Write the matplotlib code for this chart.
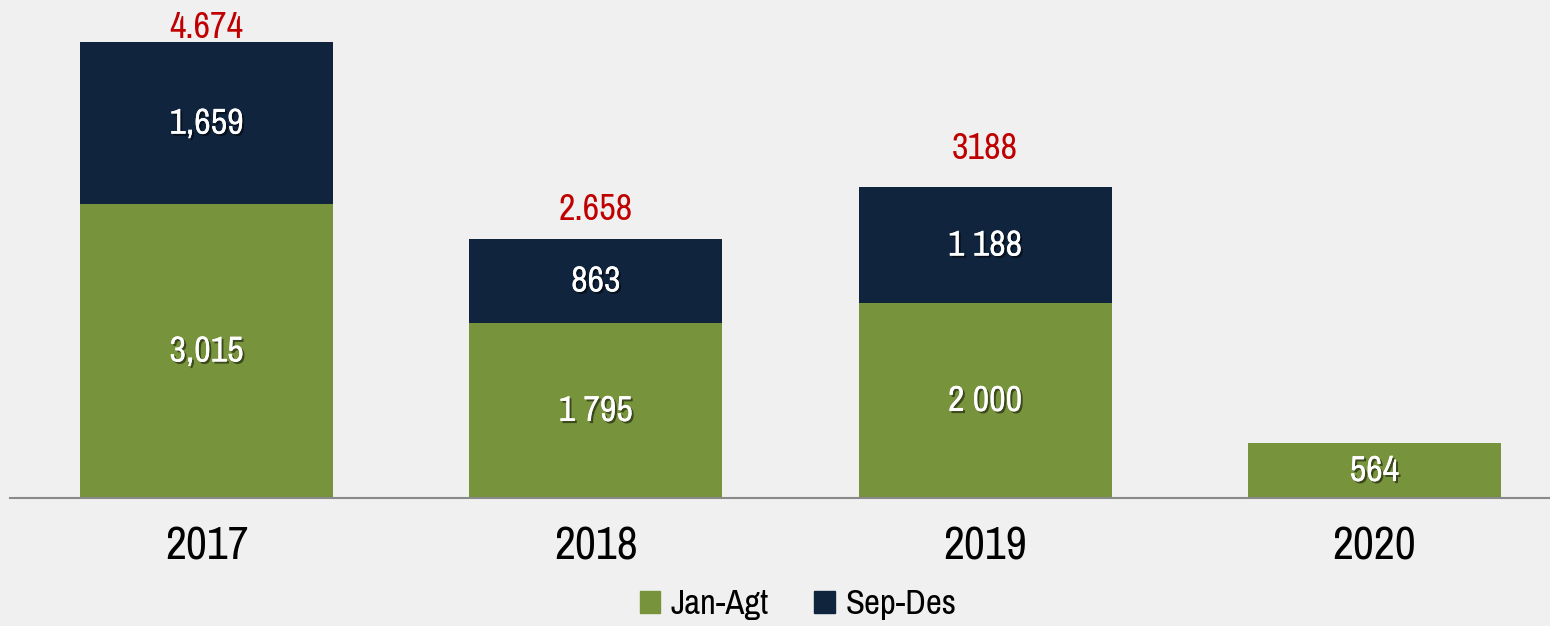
import matplotlib
matplotlib.use("Agg")
import matplotlib.pyplot as plt
import matplotlib.patheffects as pe
from matplotlib.patches import Patch
import numpy as np

# data
years = ["2017", "2018", "2019", "2020"]
jan_agt = [3015, 1795, 2000, 564]
sep_des = [1659, 863, 1188, 0]
jan_lbl = ["3,015", "1 795", "2 000", "564"]
sep_lbl = ["1,659", "863", "1 188", ""]
total_lbl = ["4.674", "2.658", "3188", ""]
total_gap = [3, 13.5, 20, 0]   # points between bar top and label baseline, as in the original

GREEN = "#77933c"
NAVY = "#10243e"
RED = "#c00000"
BG = "#f0f0f0"

plt.rcParams["font.family"] = ["Archivo Narrow", "DejaVu Sans"]

fig = plt.figure(figsize=(15.5, 6.26), dpi=100, facecolor=BG)
ax = fig.add_axes([10 / 1550, 128 / 626, 1540 / 1550, 498 / 626])
ax.set_facecolor(BG)

x = np.arange(len(years))
w = 0.65
ax.bar(x, jan_agt, w, color=GREEN, label="Jan-Agt")
ax.bar(x, sep_des, w, bottom=jan_agt, color=NAVY, label="Sep-Des")

shadow = [pe.withSimplePatchShadow(offset=(1.5, -1.5), shadow_rgbFace="black", alpha=0.5),
          pe.Normal()]
for i in range(len(years)):
    ax.text(x[i], jan_agt[i] / 2, jan_lbl[i], ha="center", va="center",
            color="white", fontsize=26, path_effects=shadow)
    if sep_des[i]:
        ax.text(x[i], jan_agt[i] + sep_des[i] / 2, sep_lbl[i], ha="center", va="center",
                color="white", fontsize=26, path_effects=shadow)
    if total_lbl[i]:
        ax.annotate(total_lbl[i], (x[i], jan_agt[i] + sep_des[i]),
                    xytext=(0, total_gap[i]), textcoords="offset points",
                    ha="center", va="baseline", color=RED, fontsize=26)

ax.set_xlim(-0.505, 3.451)
ax.set_ylim(0, 5108)
ax.set_xticks(x)
ax.set_xticklabels(years, fontsize=33)
ax.tick_params(axis="x", length=0, pad=20)
ax.set_yticks([])
for s in ["top", "right", "left"]:
    ax.spines[s].set_visible(False)
ax.spines["bottom"].set_color("#898989")
ax.spines["bottom"].set_linewidth(1.5)

handles = [Patch(color=GREEN), Patch(color=NAVY)]
fig.legend(handles, ["Jan-Agt", "Sep-Des"], loc="center", bbox_to_anchor=(798 / 1550, 22 / 626),
           ncol=2, frameon=False, fontsize=25, handlelength=0.6, handleheight=0.6,
           handletextpad=0.3, columnspacing=1.3)

fig.savefig("out.png", dpi=100, facecolor=BG)
